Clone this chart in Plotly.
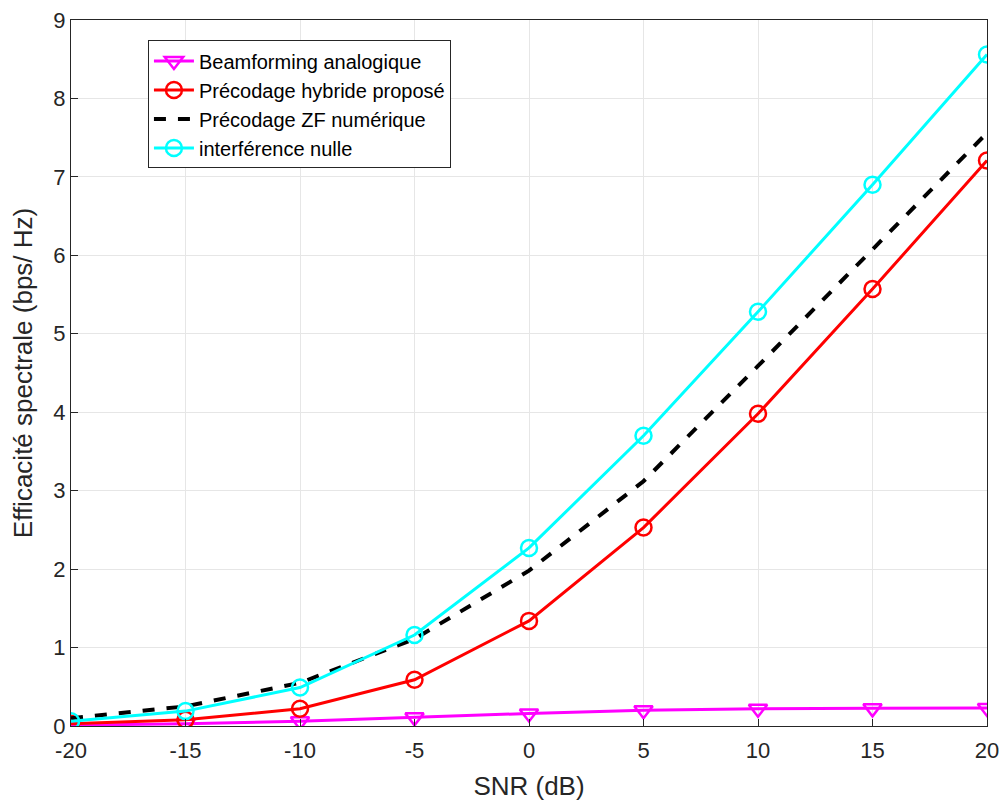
import plotly.graph_objects as go

snr = [-20, -15, -10, -5, 0, 5, 10, 15, 20]
beamforming_analogique = [0.01, 0.03, 0.06, 0.11, 0.16, 0.20, 0.22, 0.225, 0.23]
precodage_hybride = [0.03, 0.08, 0.22, 0.59, 1.34, 2.53, 3.98, 5.57, 7.21]
precodage_zf = [0.10, 0.25, 0.55, 1.11, 1.98, 3.12, 4.59, 6.08, 7.56]
interference_nulle = [0.06, 0.19, 0.49, 1.16, 2.27, 3.70, 5.28, 6.90, 8.56]

x_ticks = [-20, -15, -10, -5, 0, 5, 10, 15, 20]
y_ticks = [0, 1, 2, 3, 4, 5, 6, 7, 8, 9]

FONT = "Liberation Sans, Arial"

fig = go.Figure()
fig.add_trace(go.Scatter(x=snr, y=beamforming_analogique, mode="lines+markers",
                         name="Beamforming analogique",
                         line=dict(color="#ff00ff", width=3),
                         marker=dict(symbol="triangle-down-open", size=16, color="#ff00ff",
                                     line=dict(width=2.5))))
fig.add_trace(go.Scatter(x=snr, y=precodage_hybride, mode="lines+markers",
                         name="Précodage hybride proposé",
                         line=dict(color="#ff0000", width=3),
                         marker=dict(symbol="circle-open", size=16, color="#ff0000",
                                     line=dict(width=2.5))))
fig.add_trace(go.Scatter(x=snr, y=precodage_zf, mode="lines",
                         name="Précodage ZF numérique",
                         line=dict(color="#000000", width=4, dash="dash")))
fig.add_trace(go.Scatter(x=snr, y=interference_nulle, mode="lines+markers",
                         name="interférence nulle",
                         line=dict(color="#00ffff", width=3),
                         marker=dict(symbol="circle-open", size=16, color="#00ffff",
                                     line=dict(width=2.5))))

axis_common = dict(showgrid=True, gridcolor="#e6e6e6", gridwidth=1,
                   showline=True, linecolor="#262626", linewidth=1, mirror=True,
                   ticks="inside", ticklen=7, tickcolor="#262626",
                   tickfont=dict(family=FONT, size=22, color="#262626"),
                   zeroline=False, ticklabeloverflow="allow")

fig.update_layout(
    width=1007, height=805,
    margin=dict(l=71, r=16, t=8, b=79),
    paper_bgcolor="white", plot_bgcolor="white",
    font=dict(family=FONT, color="#262626"),
    xaxis=dict(range=[-20, 20], tickvals=x_ticks, ticktext=[str(v) for v in x_ticks],
               title=dict(text="SNR (dB)", font=dict(size=26, color="#262626"), standoff=14),
               ticklabelstandoff=5,
               **axis_common),
    yaxis=dict(range=[0, 9], tickvals=y_ticks, ticktext=[str(v) for v in y_ticks],
               title=dict(text="Efficacité spectrale (bps/ Hz)", font=dict(size=26, color="#262626"), standoff=13),
               **axis_common),
    legend=dict(x=0.084, y=0.971, xanchor="left", yanchor="top",
                bgcolor="white", bordercolor="#262626", borderwidth=1,
                font=dict(family=FONT, size=20, color="#000000"),
                itemwidth=40, tracegroupgap=0),
    showlegend=True,
)

fig.write_html("out.html", config={"displayModeBar": False},
               post_script="document.body.style.margin='0';")
